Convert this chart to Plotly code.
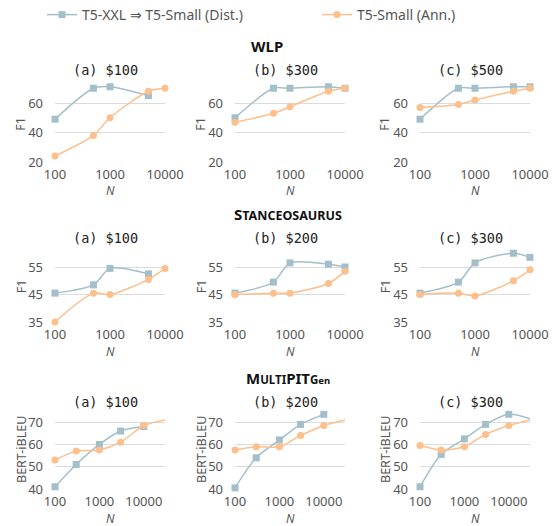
import plotly.graph_objects as go

W, H = 557, 526

# ---------------- data ----------------
N_WLP = [100, 500, 1000, 5000, 10000]
N_STANCE = [100, 500, 1000, 5000, 10000]
N_MPIT = [100, 300, 1000, 3000, 10000, 30000]

# WLP (F1)
wlp_a_dist = [49, 70, 71, 65, None]
wlp_a_ann = [24, 38, 50, 68, 70]
wlp_b_dist = [50, 70, 70, 71, 70]
wlp_b_ann = [47, 53, 57.5, 68, 70]
wlp_c_dist = [49, 70, 70, 71, 71]
wlp_c_ann = [57, 59, 62, 68, 70]

# Stanceosaurus (F1)
st_a_dist = [45.5, 48.5, 54.5, 52.5, None]
st_a_ann = [35, 45.5, 45, 50.5, 54.5]
st_b_dist = [45.5, 49.5, 56.5, 56, 55]
st_b_ann = [45, 45.5, 45.5, 49, 53.5]
st_c_dist = [45.5, 49.5, 56.5, 60, 58.5]
st_c_ann = [45, 45.5, 44.5, 50, 54]

# MultiPIT_Gen (BERT-iBLEU)
mp_a_dist = [41, 51, 60, 66, 68, None]
mp_a_ann = [53, 57, 57.5, 61, 68.5, 71]
mp_b_dist = [40.5, 54, 62, 69, 73.5, None]
mp_b_ann = [57.5, 59, 59, 64, 68.5, 71]
mp_c_dist = [41, 55.5, 62.5, 69, 73.5, 71.5]
mp_c_ann = [59.5, 57.5, 59, 64.5, 68.5, 71]

panel_titles = [["(a) $100", "(b) $300", "(c) $500"],
                ["(a) $100", "(b) $200", "(c) $300"],
                ["(a) $100", "(b) $200", "(c) $300"]]
section_titles = ["WLP",
                  "S<span style='font-size:12.5px'>TANCEOSAURUS</span>",
                  "M<span style='font-size:11.5px'>ULTI</span>PIT<span style='font-size:11.5px'>G</span><span style='font-size:9.5px'>en</span>"]
y_titles = ["F1", "F1", "BERT-iBLEU"]
series_names = ["T5-XXL ⇒ T5-Small (Dist.)", "T5-Small (Ann.)"]

rows = [
    (N_WLP, [(wlp_a_dist, wlp_a_ann), (wlp_b_dist, wlp_b_ann), (wlp_c_dist, wlp_c_ann)]),
    (N_STANCE, [(st_a_dist, st_a_ann), (st_b_dist, st_b_ann), (st_c_dist, st_c_ann)]),
    (N_MPIT, [(mp_a_dist, mp_a_ann), (mp_b_dist, mp_b_ann), (mp_c_dist, mp_c_ann)]),
]
y_ranges = [[20, 72], [35, 61], [40, 75]]
y_ticks = [[20, 40, 60], [35, 45, 55], [40, 50, 60, 70]]
x_ranges = [[2, 4], [2, 4], [2, 4.477]]
x_ticks = [100, 1000, 10000]

# ---------------- layout geometry (window pixels) ----------------
col_px = [(55, 165), (235, 345), (420, 530)]
row_px = [(85.3, 162), (250.5, 322), (411, 489)]
sec_title_px = [(267, 46), (288, 214), (288, 378)]
panel_title_y = [70, 238, 402]
ytitle_x = [21, 201, 385]
ntitle_y = [191, 351, 518]

DIST_C = "#a3bfca"
ANN_C = "#fdbf8b"
GRID_C = "#dcdcdc"
TXT_C = "#555555"
FONT = "Noto Sans"


def px(x):
    return x / W


def py(y):
    return 1 - y / H


fig = go.Figure()
layout = {}
annotations = []
idx = 0
for r, (Ns, panels) in enumerate(rows):
    for c, (dist, ann) in enumerate(panels):
        idx += 1
        sfx = "" if idx == 1 else str(idx)
        xa, ya = "x" + sfx, "y" + sfx
        for k, (name, vals, col, sym) in enumerate([(series_names[0], dist, DIST_C, "square"),
                                                    (series_names[1], ann, ANN_C, "circle")]):
            fig.add_trace(go.Scatter(
                x=Ns, y=vals, name=name, xaxis=xa, yaxis=ya,
                mode="lines+markers", connectgaps=False,
                line=dict(color=col, width=1.5, shape="spline", smoothing=0.8),
                marker=dict(symbol=sym, size=7, color=col),
                showlegend=(idx == 1), legend="legend" if k == 0 else "legend2",
                cliponaxis=False))
        x0, x1 = col_px[c]
        yt, yb = row_px[r]
        layout["xaxis" + sfx] = dict(
            domain=[px(x0), px(x1)], anchor=ya, type="log", range=x_ranges[r],
            tickvals=x_ticks, ticktext=[str(v) for v in x_ticks],
            showgrid=False, zeroline=False, showline=False, ticks="", automargin=False,
            tickfont=dict(family=FONT, size=13, color=TXT_C), ticklabelstandoff=3)
        layout["yaxis" + sfx] = dict(
            domain=[py(yb), py(yt)], anchor=xa, range=y_ranges[r],
            tickvals=y_ticks[r], showgrid=True, gridcolor=GRID_C, gridwidth=1,
            zeroline=False, showline=False, ticks="", automargin=False,
            tickfont=dict(family=FONT, size=13, color=TXT_C), ticklabelstandoff=11)
        cx = (x0 + x1) / 2
        annotations.append(dict(text=panel_titles[r][c], x=px(cx - 5), y=py(panel_title_y[r]),
                                xref="paper", yref="paper", showarrow=False,
                                xanchor="center", yanchor="middle",
                                font=dict(family="DejaVu Sans Mono", size=13.5, color="#222")))
        annotations.append(dict(text=y_titles[r], x=px(ytitle_x[c]), y=py((yt + yb) / 2),
                                xref="paper", yref="paper", showarrow=False, textangle=-90,
                                xanchor="center", yanchor="middle",
                                font=dict(family=FONT, size=12.5, color=TXT_C)))
        annotations.append(dict(text="<i>N</i>", x=px(cx), y=py(ntitle_y[r]),
                                xref="paper", yref="paper", showarrow=False,
                                xanchor="center", yanchor="middle",
                                font=dict(family=FONT, size=12, color=TXT_C)))
    sx, sy = sec_title_px[r]
    annotations.append(dict(text="<b>" + section_titles[r] + "</b>", x=px(sx), y=py(sy),
                            xref="paper", yref="paper", showarrow=False,
                            xanchor="center", yanchor="middle",
                            font=dict(family=FONT, size=15, color="#111")))

legend_common = dict(orientation="h", yanchor="middle", xanchor="left",
                     font=dict(family=FONT, size=14, color=TXT_C),
                     bgcolor="rgba(0,0,0,0)", borderwidth=0)

fig.update_layout(
    width=W, height=H, margin=dict(l=0, r=0, t=0, b=0, autoexpand=False),
    paper_bgcolor="white", plot_bgcolor="white",
    annotations=annotations,
    legend=dict(x=px(42), y=py(15), **legend_common),
    legend2=dict(x=px(317), y=py(15), **legend_common),
    **layout)

fig.write_html("out.html", config={"displayModeBar": False},
               post_script="document.body.style.margin='0px';")
